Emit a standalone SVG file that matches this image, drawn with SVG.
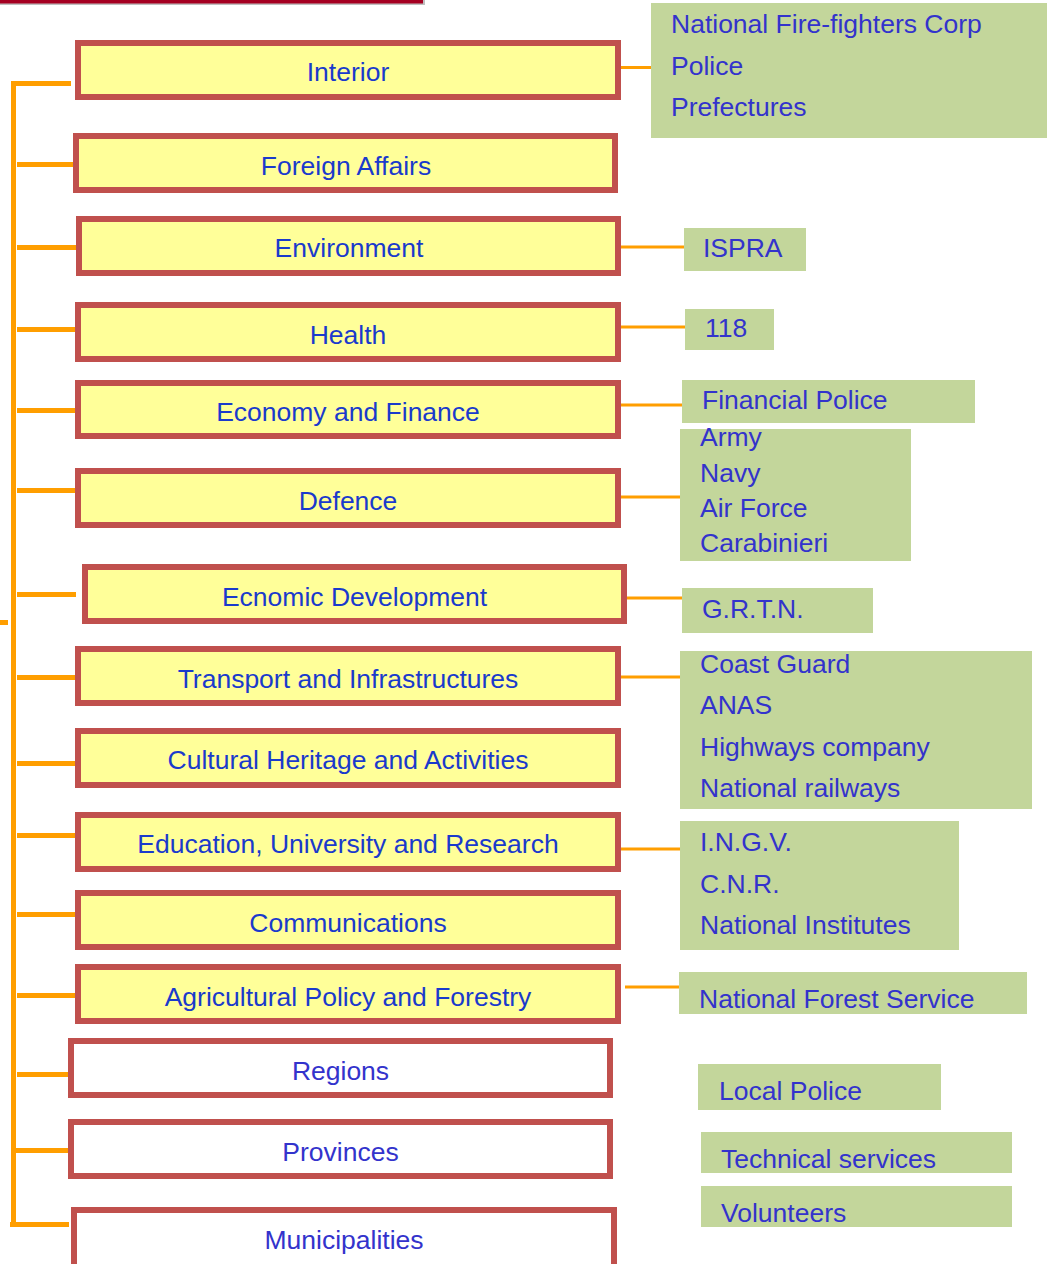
<svg xmlns="http://www.w3.org/2000/svg" width="1047" height="1264" viewBox="0 0 1047 1264">
<style>
.min rect{fill:#ffff99;stroke:#c0504d;stroke-width:6}
.loc rect{fill:#ffffff;stroke:#c0504d;stroke-width:6}
.ag rect{fill:#c3d69b}
text{font-family:"Liberation Sans",Arial,sans-serif;font-size:26.5px}
.min text{fill:#1a3acc;text-anchor:middle}
.loc text{fill:#3333cc;text-anchor:middle}
.ag text{fill:#3333cc}
.trunk{stroke:#ff9e00;stroke-width:5;fill:none}
.link{stroke:#ff9e00;stroke-width:3;fill:none}
</style>
<rect x="0" y="0" width="425" height="5" fill="#bfbfbf"/>
<rect x="0" y="0" width="423" height="3.5" fill="#a50021"/>
<g id="connectors">
<path class="trunk" d="M13.5 81V1227M12 83.5H71M17 164.5H76M17 247.5H76M17 329.5H76M17 410.5H76M17 490.5H76M17 594.5H76M0 622.5H8M17 677.5H76M17 763.5H76M17 835.5H76M17 914.5H76M17 995.5H76M17 1074.5H76M12 1150.5H72M10 1224.5H69"/>
<path class="link" d="M621 67.5H651M621 247H684M621 327H685M621 405H682M620 497H680M620 598H682M618 677H680M619 849H680M625 987H679"/>
</g>
<g id="interior" class="min"><rect x="78" y="43" width="540" height="54"/><text x="348" y="81">Interior</text></g>
<g id="foreign-affairs" class="min"><rect x="76" y="136" width="539" height="54"/><text x="346" y="175">Foreign Affairs</text></g>
<g id="environment" class="min"><rect x="79" y="219" width="539" height="54"/><text x="349" y="257">Environment</text></g>
<g id="health" class="min"><rect x="78" y="305" width="540" height="54"/><text x="348" y="344">Health</text></g>
<g id="economy" class="min"><rect x="78" y="383" width="540" height="53"/><text x="348" y="421">Economy and Finance</text></g>
<g id="defence" class="min"><rect x="78" y="471" width="540" height="54"/><text x="348" y="510">Defence</text></g>
<g id="economic-development" class="min"><rect x="85" y="567" width="539" height="54"/><text x="354.5" y="606">Ecnomic Development</text></g>
<g id="transport" class="min"><rect x="78" y="649" width="540" height="54"/><text x="348" y="688">Transport and Infrastructures</text></g>
<g id="cultural" class="min"><rect x="78" y="731" width="540" height="54"/><text x="348" y="769">Cultural Heritage and Activities</text></g>
<g id="education" class="min"><rect x="78" y="815" width="540" height="54"/><text x="348" y="853">Education, University and Research</text></g>
<g id="communications" class="min"><rect x="78" y="893" width="540" height="54"/><text x="348" y="932">Communications</text></g>
<g id="agricultural" class="min"><rect x="78" y="967" width="540" height="54"/><text x="348" y="1006">Agricultural Policy and Forestry</text></g>
<g id="regions" class="loc"><rect x="71" y="1041" width="539" height="54"/><text x="340.5" y="1080">Regions</text></g>
<g id="provinces" class="loc"><rect x="71" y="1122" width="539" height="54"/><text x="340.5" y="1161">Provinces</text></g>
<g id="municipalities" class="loc"><rect x="74" y="1210" width="540" height="60"/><text x="344" y="1249">Municipalities</text></g>
<g id="ag-interior" class="ag"><rect x="651" y="3" width="396" height="135"/><text x="671" y="33">National Fire-fighters Corp</text><text x="671" y="75">Police</text><text x="671" y="116">Prefectures</text></g>
<g id="ag-ispra" class="ag"><rect x="684" y="228" width="122" height="43"/><text x="703" y="257">ISPRA</text></g>
<g id="ag-118" class="ag"><rect x="685" y="309" width="89" height="41"/><text x="705" y="337">118</text></g>
<g id="ag-financial" class="ag"><rect x="682" y="380" width="293" height="43"/><text x="702" y="409">Financial Police</text></g>
<g id="ag-defence" class="ag"><rect x="680" y="429" width="231" height="132"/><text x="700" y="446">Army</text><text x="700" y="482">Navy</text><text x="700" y="517">Air Force</text><text x="700" y="552">Carabinieri</text></g>
<g id="ag-grtn" class="ag"><rect x="682" y="588" width="191" height="45"/><text x="702" y="618">G.R.T.N.</text></g>
<g id="ag-transport" class="ag"><rect x="680" y="651" width="352" height="158"/><text x="700" y="673">Coast Guard</text><text x="700" y="714">ANAS</text><text x="700" y="756">Highways company</text><text x="700" y="797">National railways</text></g>
<g id="ag-research" class="ag"><rect x="680" y="821" width="279" height="129"/><text x="700" y="851">I.N.G.V.</text><text x="700" y="893">C.N.R.</text><text x="700" y="934">National Institutes</text></g>
<g id="ag-forest" class="ag"><rect x="679" y="972" width="348" height="42"/><text x="699" y="1008">National Forest Service</text></g>
<g id="ag-local-police" class="ag"><rect x="698" y="1064" width="243" height="46"/><text x="719" y="1100">Local Police</text></g>
<g id="ag-technical" class="ag"><rect x="701" y="1132" width="311" height="41"/><text x="721" y="1168">Technical services</text></g>
<g id="ag-volunteers" class="ag"><rect x="701" y="1186" width="311" height="41"/><text x="721" y="1222">Volunteers</text></g>
</svg>
